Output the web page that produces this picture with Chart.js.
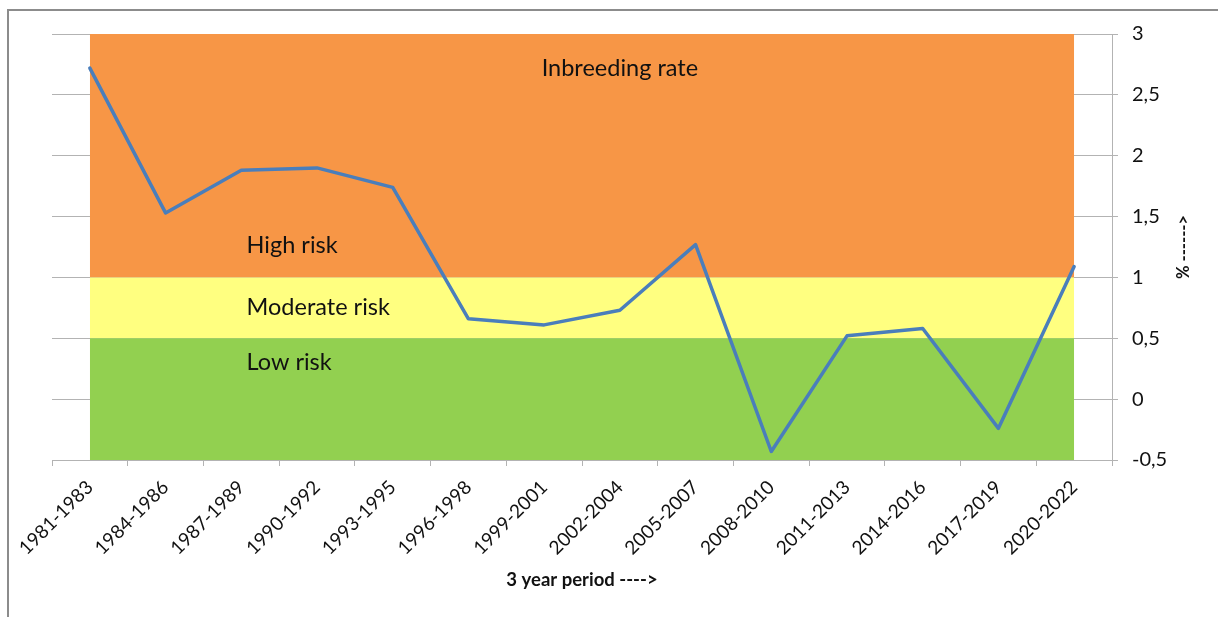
<!DOCTYPE html>
<html>
<head>
<meta charset="utf-8">
<title>Inbreeding rate</title>
<script src="https://cdn.jsdelivr.net/npm/chart.js@4.4.1/dist/chart.umd.min.js"></script>
<style>
  html, body { margin: 0; padding: 0; background: #fff; overflow: hidden; }
  #wrap { position: relative; width: 1218px; height: 617px; }
  #frame {
    position: absolute; left: 7px; top: 9px; width: 1220px; height: 620px;
    border-left: 2px solid #8c8c8c; border-top: 2px solid #8c8c8c;
    pointer-events: none;
  }
  canvas { position: absolute; left: 0; top: 0; }
</style>
</head>
<body>
<div id="wrap">
  <canvas id="rateChart" width="1218" height="617"></canvas>
  <div id="frame"></div>
</div>
<script>
const periods = ['1981-1983', '1984-1986', '1987-1989', '1990-1992', '1993-1995', '1996-1998', '1999-2001',
                 '2002-2004', '2005-2007', '2008-2010', '2011-2013', '2014-2016', '2017-2019', '2020-2022'];
const inbreedingRate = [2.72, 1.53, 1.88, 1.90, 1.74, 0.66, 0.61, 0.73, 1.27, -0.43, 0.52, 0.58, -0.24, 1.09];

// upper limit of each risk zone, in %
const lowRiskTop = 0.5;
const moderateRiskTop = 1;
const highRiskTop = 3;

const yMin = -0.5;
const yMax = 3;
const yStep = 0.5;

const FONT = 'Lato, "Open Sans", sans-serif';
const TEXT = '#111';
const GRID = '#b3b3b3';

const flat = v => periods.map(() => v);

// text placed inside the zones (x = category index, y = value)
const zoneLabels = [
  { text: 'Inbreeding rate', x: 7, y: 2.72, align: 'center' },
  { text: 'High risk', x: 2.07, y: 1.26, align: 'left' },
  { text: 'Moderate risk', x: 2.07, y: 0.75, align: 'left' },
  { text: 'Low risk', x: 2.07, y: 0.305, align: 'left' }
];

const zoneText = {
  id: 'zoneText',
  afterDraw(chart) {
    const { ctx, scales: { x, y }, chartArea } = chart;
    ctx.save();
    ctx.fillStyle = TEXT;
    ctx.textBaseline = 'middle';
    ctx.font = '23.5px ' + FONT;
    zoneLabels.forEach(l => {
      const i = Math.floor(l.x);
      const px = x.getPixelForValue(i) + (l.x - i) * (x.getPixelForValue(i + 1) - x.getPixelForValue(i));
      ctx.textAlign = l.align;
      ctx.fillText(l.text, px, y.getPixelForValue(l.y));
    });
    // right axis title, reading upwards
    ctx.font = 'bold 16.5px ' + FONT;
    ctx.textAlign = 'center';
    ctx.translate(chart.width - 34, (chartArea.top + chartArea.bottom) / 2);
    ctx.rotate(-Math.PI / 2);
    ctx.fillText('% ------>', 0, 0);
    ctx.restore();
  }
};

new Chart(document.getElementById('rateChart'), {
  type: 'line',
  data: {
    labels: periods,
    datasets: [
      {
        label: 'Inbreeding rate',
        data: inbreedingRate,
        borderColor: '#4a7ebb',
        borderWidth: 3.5,
        borderJoinStyle: 'round',
        borderCapStyle: 'round',
        pointRadius: 0,
        tension: 0,
        fill: false,
        order: 0
      },
      {
        label: 'Low risk',
        data: flat(lowRiskTop),
        backgroundColor: '#92d050',
        borderWidth: 0,
        pointRadius: 0,
        fill: 'start',
        order: 1
      },
      {
        label: 'Moderate risk',
        data: flat(moderateRiskTop),
        backgroundColor: '#ffff80',
        borderWidth: 0,
        pointRadius: 0,
        fill: '-1',
        order: 1
      },
      {
        label: 'High risk',
        data: flat(highRiskTop),
        backgroundColor: '#f79646',
        borderWidth: 0,
        pointRadius: 0,
        fill: '-1',
        order: 1
      }
    ]
  },
  options: {
    responsive: false,
    animation: false,
    layout: { padding: { left: 52, top: 34, right: 0, bottom: 0 } },
    plugins: {
      legend: { display: false },
      tooltip: { enabled: false }
    },
    scales: {
      x: {
        offset: true,
        grid: { offset: true, drawOnChartArea: false, color: GRID, tickLength: 6 },
        border: { color: GRID },
        ticks: {
          autoSkip: false, maxRotation: 45, minRotation: 45, padding: 10,
          color: TEXT, font: { family: FONT, size: 19 }
        },
        title: {
          display: true, text: '3 year period ---->', color: TEXT,
          font: { family: FONT, size: 18.5, weight: 'bold' },
          padding: { top: 0, bottom: 26 }
        },
        afterFit(scale) { scale.height = 157; }
      },
      y: {
        position: 'right',
        min: yMin,
        max: yMax,
        grid: { color: GRID, tickLength: 6 },
        border: { color: GRID },
        ticks: {
          stepSize: yStep, padding: 14, color: TEXT,
          font: { family: FONT, size: 20 },
          callback: v => String(v).replace('.', ',')
        },
        afterFit(scale) { scale.width = 106; }
      }
    }
  },
  plugins: [zoneText]
});
</script>
</body>
</html>
